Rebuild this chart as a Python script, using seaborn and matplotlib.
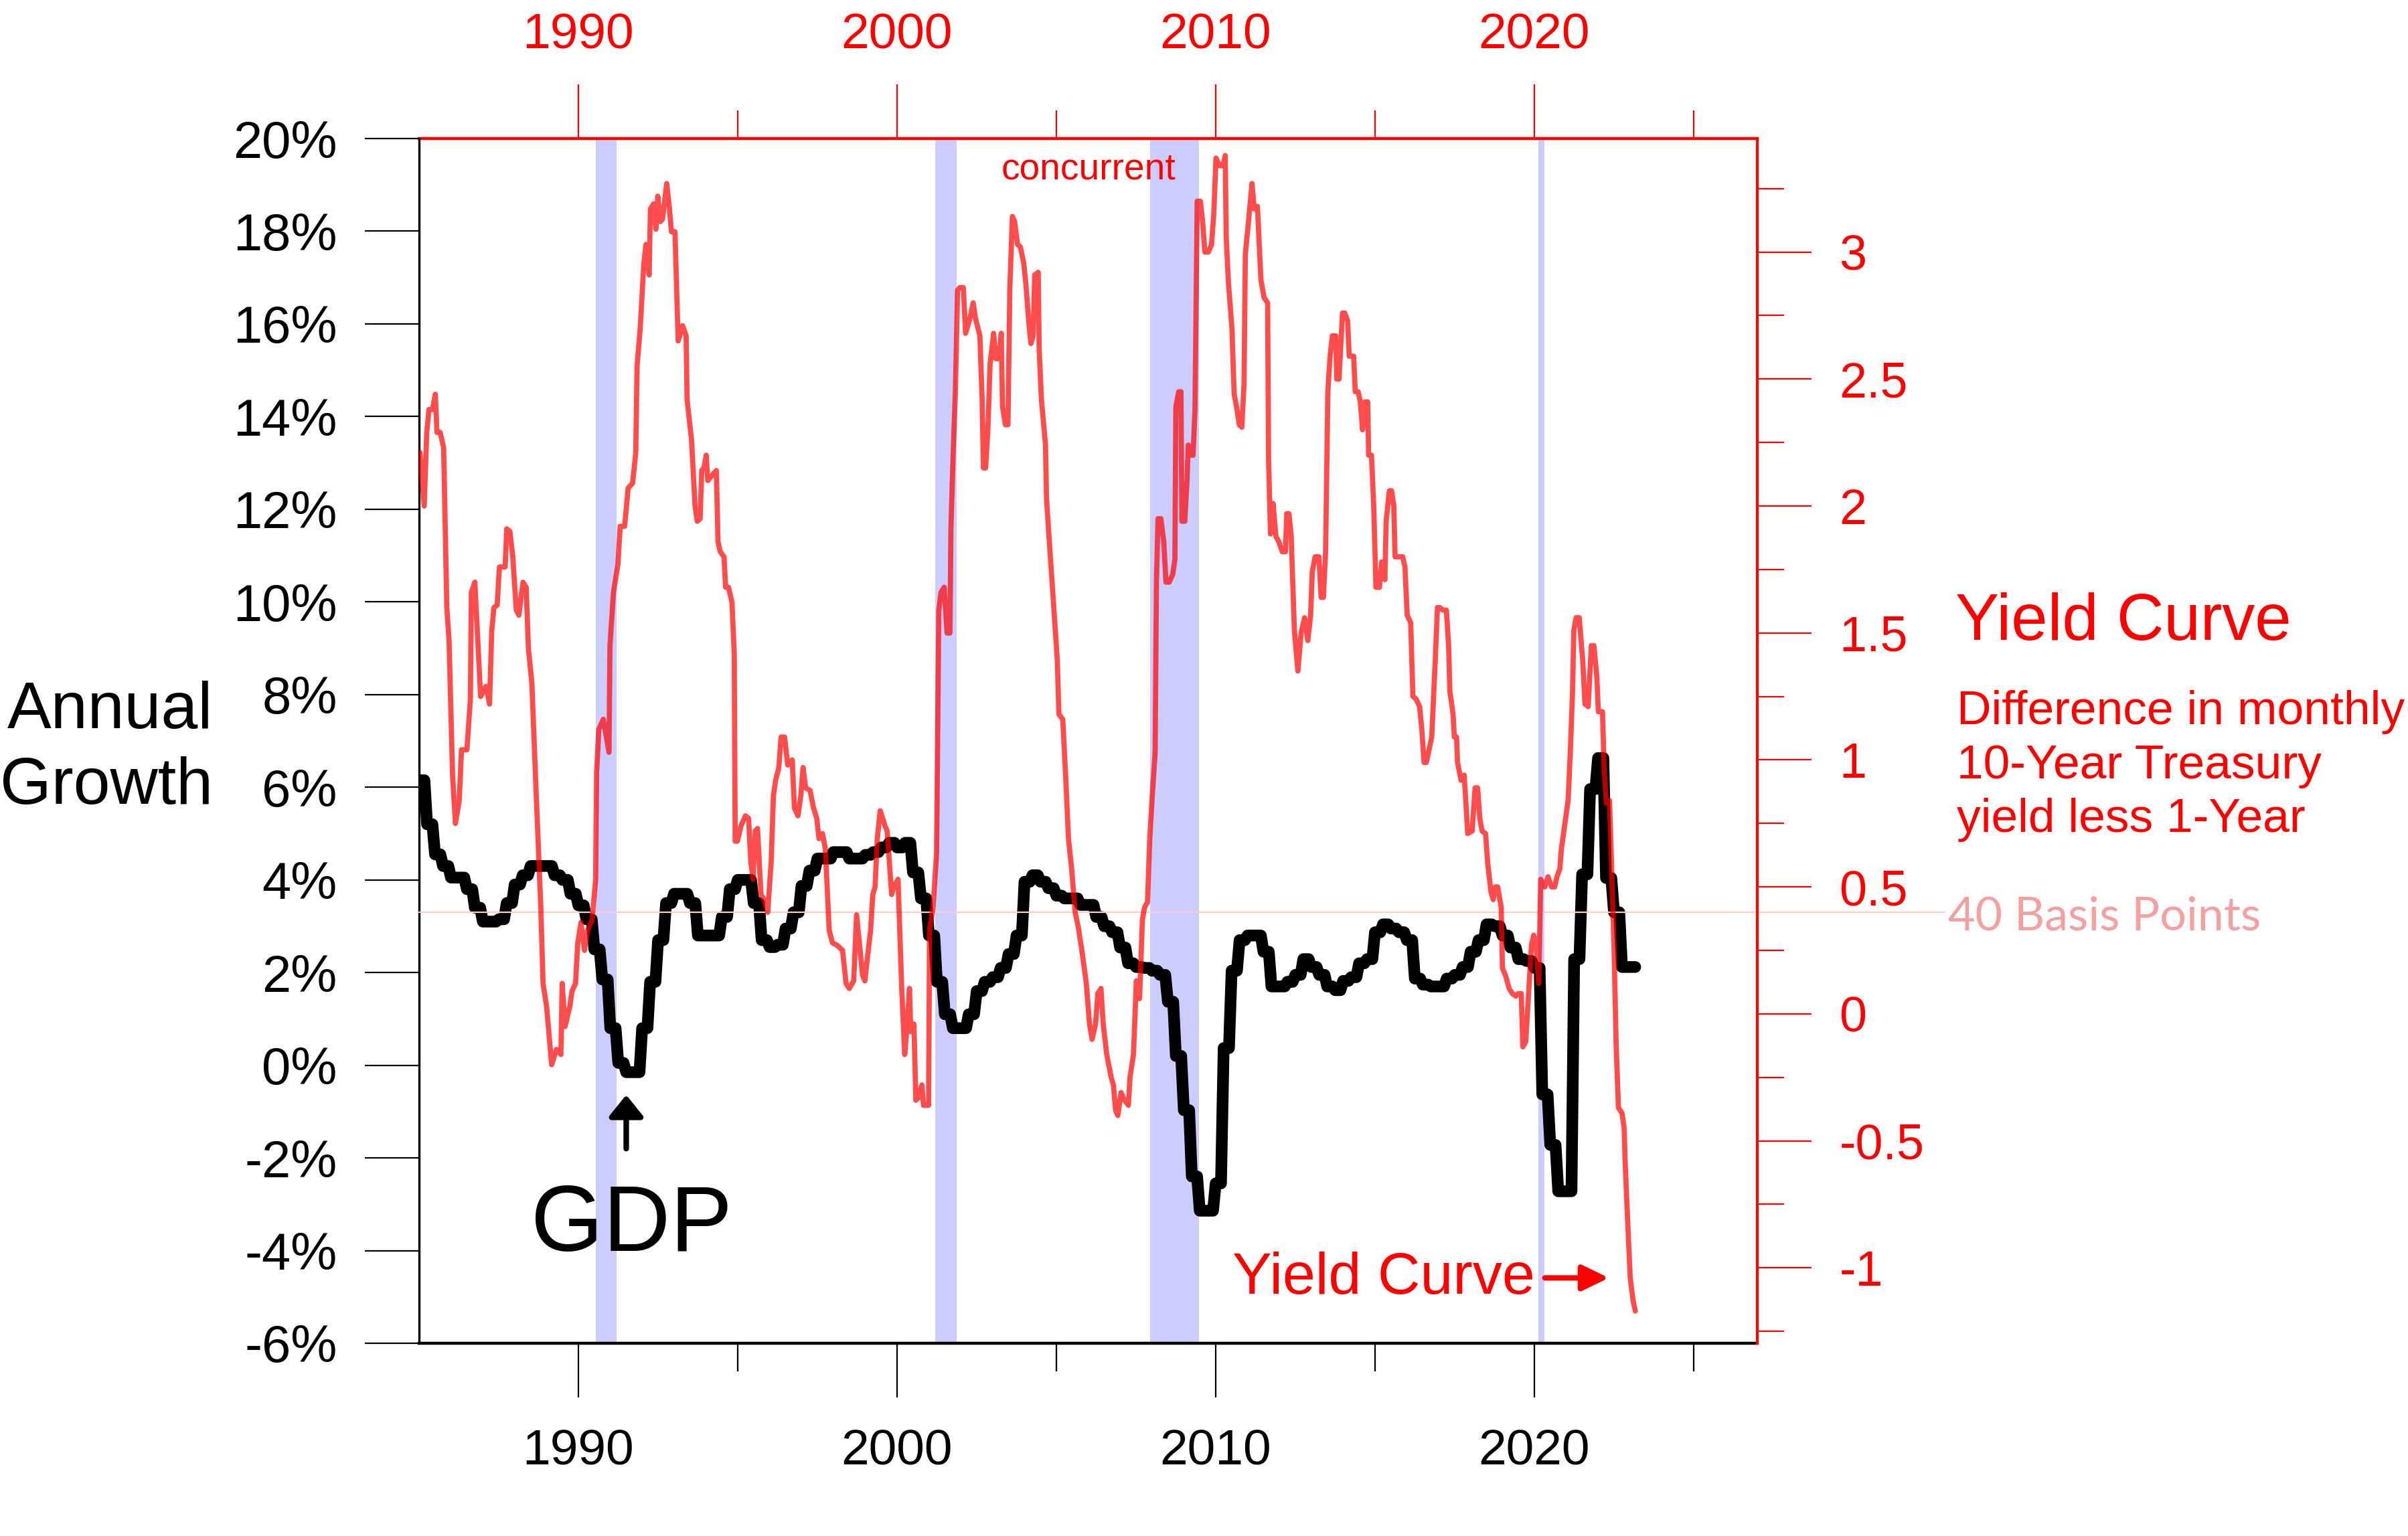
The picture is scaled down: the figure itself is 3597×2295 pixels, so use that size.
import numpy as np
import pandas as pd
import matplotlib
matplotlib.use("Agg")
import matplotlib.pyplot as plt  # noqa: E402
import seaborn as sns  # noqa: E402
from matplotlib.ticker import FixedLocator, MultipleLocator, FuncFormatter  # noqa: E402

# GDP annual growth (%), one value per quarter from 1985Q1 to 2023Q1
gdp_start = 1985
gdp_growth = [
    6.15, 5.2, 4.55, 4.3,      # 1985
    4.05, 4.05, 3.8, 3.4,      # 1986
    3.1, 3.1, 3.15, 3.5,       # 1987
    3.9, 4.1, 4.3, 4.3,        # 1988
    4.3, 4.1, 4.0, 3.7,        # 1989
    3.45, 3.15, 2.5, 1.85,     # 1990
    0.8, 0.05, -0.15, -0.15,   # 1991
    0.8, 1.8, 2.7, 3.5,        # 1992
    3.7, 3.7, 3.5, 2.8,        # 1993
    2.8, 2.8, 3.2, 3.8,        # 1994
    4.0, 4.0, 3.5, 2.7,        # 1995
    2.55, 2.6, 2.95, 3.3,      # 1996
    3.87, 4.2, 4.46, 4.46,     # 1997
    4.6, 4.6, 4.46, 4.46,      # 1998
    4.54, 4.6, 4.7, 4.8,       # 1999
    4.7, 4.8, 4.16, 3.6,       # 2000
    2.8, 1.8, 1.1, 0.8,        # 2001
    0.8, 1.1, 1.6, 1.8,        # 2002
    1.9, 2.1, 2.4, 2.8,        # 2003
    3.96, 4.1, 3.96, 3.82,     # 2004
    3.66, 3.6, 3.6, 3.46,      # 2005
    3.46, 3.2, 3.0, 2.87,      # 2006
    2.54, 2.2, 2.12, 2.1,      # 2007
    2.04, 1.95, 1.37, 0.2,     # 2008
    -0.97, -2.4, -3.14, -3.14, # 2009
    -2.55, 0.37, 2.04, 2.7,    # 2010
    2.8, 2.8, 2.45, 1.7,       # 2011
    1.7, 1.8, 1.95, 2.29,      # 2012
    2.12, 1.95, 1.7, 1.62,     # 2013
    1.82, 1.9, 2.2, 2.29,      # 2014
    2.87, 3.04, 2.95, 2.87,    # 2015
    2.7, 1.87, 1.74, 1.7,      # 2016
    1.7, 1.87, 1.95, 2.12,     # 2017
    2.45, 2.7, 3.04, 3.0,      # 2018
    2.8, 2.54, 2.29, 2.25,     # 2019
    2.1, -0.63, -1.72, -2.72,  # 2020
    -2.72, 2.29, 4.12, 5.96,   # 2021
    6.63, 4.04, 3.3, 2.12,     # 2022
    2.12,                      # 2023
]

# Yield curve: 10-year less 1-year Treasury yield (percentage points)
yc_years = [
    1985.03, 1985.16, 1985.24, 1985.31, 1985.42, 1985.51, 1985.56, 1985.66, 1985.77, 1985.87,
    1985.94, 1986.05, 1986.14, 1986.26, 1986.33, 1986.50, 1986.61, 1986.64, 1986.75, 1986.85,
    1986.93, 1987.10, 1987.21, 1987.28, 1987.35, 1987.45, 1987.52, 1987.70, 1987.75, 1987.85,
    1987.94, 1988.05, 1988.13, 1988.26, 1988.36, 1988.43, 1988.54, 1988.68, 1988.82, 1988.89,
    1989.00, 1989.16, 1989.31, 1989.45, 1989.49, 1989.58, 1989.73, 1989.80, 1989.91, 1989.98,
    1990.08, 1990.19, 1990.29, 1990.43, 1990.54, 1990.57, 1990.64, 1990.78, 1990.96, 1990.99,
    1991.10, 1991.24, 1991.31, 1991.45, 1991.56, 1991.70, 1991.80, 1991.84, 1991.94, 1992.05,
    1992.12, 1992.22, 1992.26, 1992.36, 1992.43, 1992.49, 1992.57, 1992.64, 1992.77, 1992.85,
    1992.92, 1993.03, 1993.13, 1993.27, 1993.38, 1993.41, 1993.55, 1993.66, 1993.73, 1993.82,
    1993.87, 1993.94, 1994.01, 1994.06, 1994.19, 1994.33, 1994.38, 1994.45, 1994.57, 1994.62,
    1994.71, 1994.82, 1994.89, 1994.92, 1994.99, 1995.10, 1995.24, 1995.34, 1995.41, 1995.48,
    1995.55, 1995.62, 1995.73, 1995.83, 1995.94, 1996.05, 1996.12, 1996.19, 1996.29, 1996.36,
    1996.47, 1996.57, 1996.71, 1996.78, 1996.89, 1996.98, 1997.05, 1997.13, 1997.27, 1997.38,
    1997.48, 1997.55, 1997.66, 1997.75, 1997.87, 1997.97, 1998.12, 1998.29, 1998.40, 1998.50,
    1998.64, 1998.73, 1998.85, 1998.92, 1998.99, 1999.06, 1999.17, 1999.24, 1999.31, 1999.38,
    1999.47, 1999.55, 1999.62, 1999.69, 1999.83, 1999.90, 2000.03, 2000.15, 2000.24, 2000.32,
    2000.39, 2000.43, 2000.53, 2000.59, 2000.67, 2000.78, 2000.83, 2000.99, 2001.02, 2001.13,
    2001.24, 2001.31, 2001.38, 2001.48, 2001.57, 2001.66, 2001.69, 2001.76, 2001.83, 2001.90,
    2001.97, 2002.08, 2002.15, 2002.29, 2002.39, 2002.46, 2002.60, 2002.67, 2002.71, 2002.78,
    2002.85, 2002.92, 2003.03, 2003.10, 2003.20, 2003.27, 2003.31, 2003.40, 2003.48, 2003.54,
    2003.62, 2003.69, 2003.78, 2003.87, 2003.97, 2004.04, 2004.13, 2004.20, 2004.27, 2004.32,
    2004.43, 2004.46, 2004.53, 2004.66, 2004.69, 2004.80, 2004.92, 2005.03, 2005.08, 2005.20,
    2005.29, 2005.38, 2005.48, 2005.59, 2005.69, 2005.80, 2005.94, 2006.04, 2006.12, 2006.23,
    2006.30, 2006.40, 2006.47, 2006.58, 2006.72, 2006.79, 2006.86, 2006.93, 2007.03, 2007.14,
    2007.26, 2007.31, 2007.42, 2007.51, 2007.61, 2007.70, 2007.77, 2007.86, 2007.93, 2008.01,
    2008.10, 2008.14, 2008.19, 2008.28, 2008.37, 2008.44, 2008.54, 2008.65, 2008.72, 2008.75,
    2008.84, 2008.91, 2008.94, 2009.03, 2009.10, 2009.14, 2009.24, 2009.29, 2009.35, 2009.42,
    2009.52, 2009.59, 2009.66, 2009.77, 2009.87, 2009.94, 2010.01, 2010.12, 2010.23, 2010.30,
    2010.33, 2010.40, 2010.51, 2010.58, 2010.67, 2010.74, 2010.82, 2010.89, 2010.93, 2011.03,
    2011.14, 2011.21, 2011.31, 2011.42, 2011.52, 2011.63, 2011.66, 2011.72, 2011.80, 2011.89,
    2011.98, 2012.09, 2012.19, 2012.23, 2012.30, 2012.37, 2012.47, 2012.58, 2012.68, 2012.79,
    2012.89, 2012.98, 2013.03, 2013.12, 2013.24, 2013.31, 2013.38, 2013.45, 2013.52, 2013.59,
    2013.66, 2013.77, 2013.80, 2013.87, 2013.98, 2014.05, 2014.14, 2014.19, 2014.33, 2014.38,
    2014.47, 2014.54, 2014.61, 2014.68, 2014.77, 2014.80, 2014.89, 2014.96, 2015.03, 2015.14,
    2015.21, 2015.31, 2015.35, 2015.45, 2015.52, 2015.59, 2015.63, 2015.77, 2015.87, 2015.94,
    2016.01, 2016.12, 2016.19, 2016.29, 2016.40, 2016.47, 2016.54, 2016.61, 2016.68, 2016.78,
    2016.89, 2016.96, 2017.03, 2017.14, 2017.24, 2017.31, 2017.35, 2017.45, 2017.49, 2017.56,
    2017.59, 2017.70, 2017.80, 2017.91, 2018.05, 2018.14, 2018.22, 2018.29, 2018.36, 2018.47,
    2018.54, 2018.64, 2018.71, 2018.78, 2018.85, 2018.96, 2019.00, 2019.10, 2019.21, 2019.31,
    2019.42, 2019.49, 2019.59, 2019.64, 2019.73, 2019.84, 2019.91, 2019.98, 2020.05, 2020.14,
    2020.20, 2020.33, 2020.43, 2020.54, 2020.64, 2020.71, 2020.80, 2020.85, 2020.96, 2021.06,
    2021.13, 2021.20, 2021.24, 2021.31, 2021.41, 2021.52, 2021.59, 2021.69, 2021.79, 2021.87,
    2021.96, 2022.01, 2022.14, 2022.19, 2022.26, 2022.36, 2022.43, 2022.50, 2022.57, 2022.64,
    2022.75, 2022.82, 2022.85, 2022.92, 2023.01, 2023.10, 2023.17,
]
yc_spread = [
    2.21, 2.00, 2.29, 2.38, 2.38, 2.44, 2.29, 2.29, 2.23, 1.60,
    1.47, 0.94, 0.75, 0.84, 1.04, 1.04, 1.24, 1.66, 1.70, 1.45,
    1.25, 1.29, 1.22, 1.51, 1.60, 1.61, 1.76, 1.76, 1.91, 1.90,
    1.80, 1.59, 1.57, 1.70, 1.68, 1.44, 1.30, 0.85, 0.42, 0.12,
    0.03, -0.20, -0.14, -0.16, 0.12, -0.05, 0.03, 0.09, 0.12, 0.28,
    0.36, 0.25, 0.33, 0.37, 0.53, 0.95, 1.12, 1.16, 1.03, 1.45,
    1.66, 1.77, 1.92, 1.92, 2.07, 2.09, 2.21, 2.55, 2.70, 2.95,
    3.03, 2.91, 3.17, 3.19, 3.09, 3.22, 3.12, 3.13, 3.27, 3.18,
    3.08, 3.08, 2.65, 2.71, 2.67, 2.42, 2.26, 2.00, 1.94, 1.95,
    2.14, 2.15, 2.20, 2.10, 2.12, 2.14, 1.86, 1.82, 1.80, 1.68,
    1.68, 1.62, 1.42, 0.68, 0.68, 0.74, 0.78, 0.77, 0.60, 0.53,
    0.72, 0.73, 0.47, 0.45, 0.40, 0.60, 0.86, 0.92, 0.97, 1.09,
    1.09, 0.98, 1.00, 0.81, 0.78, 0.86, 0.97, 0.89, 0.88, 0.81,
    0.77, 0.69, 0.71, 0.65, 0.33, 0.28, 0.27, 0.25, 0.12, 0.10,
    0.13, 0.39, 0.24, 0.15, 0.13, 0.21, 0.33, 0.47, 0.50, 0.69,
    0.80, 0.77, 0.74, 0.72, 0.47, 0.50, 0.53, 0.09, -0.16, -0.04,
    0.10, -0.07, -0.04, -0.34, -0.33, -0.28, -0.36, -0.36, 0.33, 0.42,
    0.63, 1.59, 1.66, 1.68, 1.50, 1.50, 1.91, 2.20, 2.45, 2.85,
    2.86, 2.86, 2.68, 2.74, 2.80, 2.74, 2.67, 2.42, 2.15, 2.15,
    2.30, 2.56, 2.68, 2.58, 2.58, 2.68, 2.39, 2.32, 2.32, 2.86,
    3.14, 3.12, 3.03, 3.02, 2.96, 2.88, 2.73, 2.64, 2.67, 2.91,
    2.92, 2.62, 2.42, 2.24, 2.03, 1.82, 1.60, 1.39, 1.18, 1.16,
    0.94, 0.69, 0.57, 0.40, 0.34, 0.25, 0.12, -0.04, -0.10, -0.04,
    0.08, 0.10, -0.04, -0.16, -0.25, -0.28, -0.38, -0.40, -0.31, -0.34,
    -0.36, -0.25, -0.16, 0.13, 0.06, 0.37, 0.42, 0.44, 0.69, 0.86,
    1.03, 1.70, 1.95, 1.95, 1.86, 1.70, 1.70, 1.73, 1.79, 2.39,
    2.45, 2.45, 1.94, 1.94, 2.10, 2.24, 2.20, 2.20, 2.38, 3.20,
    3.20, 3.12, 3.00, 3.00, 3.03, 3.15, 3.37, 3.34, 3.34, 3.38,
    3.06, 2.88, 2.70, 2.44, 2.38, 2.32, 2.31, 2.48, 2.99, 3.12,
    3.27, 3.17, 3.18, 2.89, 2.82, 2.80, 2.18, 1.89, 2.01, 1.88,
    1.86, 1.82, 1.82, 1.97, 1.97, 1.88, 1.51, 1.35, 1.50, 1.56,
    1.47, 1.57, 1.74, 1.80, 1.80, 1.64, 1.64, 1.82, 2.45, 2.59,
    2.67, 2.67, 2.50, 2.50, 2.76, 2.76, 2.73, 2.59, 2.59, 2.45,
    2.45, 2.41, 2.30, 2.41, 2.41, 2.20, 2.20, 2.00, 1.68, 1.68,
    1.78, 1.71, 1.94, 2.06, 2.06, 2.00, 1.80, 1.80, 1.80, 1.76,
    1.57, 1.54, 1.25, 1.24, 1.21, 1.12, 0.99, 0.99, 1.03, 1.09,
    1.39, 1.60, 1.60, 1.59, 1.59, 1.45, 1.27, 1.18, 1.09, 1.09,
    0.99, 0.92, 0.94, 0.71, 0.72, 0.89, 0.89, 0.77, 0.72, 0.71,
    0.59, 0.48, 0.45, 0.50, 0.50, 0.42, 0.18, 0.15, 0.10, 0.08,
    0.07, 0.08, 0.08, -0.13, -0.11, 0.12, 0.27, 0.31, 0.28, 0.12,
    0.53, 0.50, 0.54, 0.50, 0.50, 0.54, 0.57, 0.65, 0.75, 0.84,
    1.03, 1.27, 1.51, 1.56, 1.56, 1.39, 1.22, 1.21, 1.45, 1.45,
    1.33, 1.19, 1.19, 0.97, 0.83, 0.84, 0.56, 0.27, -0.13, -0.37,
    -0.39, -0.45, -0.58, -0.79, -1.04, -1.13, -1.17,
]

recessions = [(1990.54, 1991.20), (2001.20, 2001.88), (2007.94, 2009.48), (2020.13, 2020.31)]

growth_ticks = list(range(-6, 21, 2))
spread_ticks = [-1, -0.5, 0, 0.5, 1, 1.5, 2, 2.5, 3]
year_ticks = [1990, 2000, 2010, 2020]
year_minor = [1995, 2005, 2015, 2025]
basis_points = 0.4

# quarterly values held for each month of the quarter
gdp = pd.DataFrame({
    "year": gdp_start + np.arange(len(gdp_growth) * 3) / 12,
    "growth": np.repeat(gdp_growth, 3),
})
yc = pd.DataFrame({"year": yc_years, "spread": yc_spread})

sns.set_style("white")
plt.rcParams["font.family"] = ["Liberation Sans", "DejaVu Sans"]
plt.rcParams["axes.unicode_minus"] = False

fig = plt.figure(figsize=(17.99, 11.475), dpi=200)
ax = fig.add_axes([0.1740, 0.1255, 0.5556, 0.7843])

for start, end in recessions:
    ax.axvspan(start, end, color="#ccccff", lw=0, zorder=0)

sns.lineplot(data=gdp, x="year", y="growth", ax=ax, color="black", lw=6.3,
             estimator=None, sort=False, solid_joinstyle="round", solid_capstyle="round", zorder=3)
ax.set_xlim(1985.0, 2027.0)
ax.set_ylim(-6, 20)
ax.set_xlabel("")
ax.set_ylabel("")

ax2 = ax.twinx()
ax2.axhline(basis_points, xmin=0, xmax=1.14, color="#ffcccc", lw=0.8, clip_on=False, zorder=1)
sns.lineplot(data=yc, x="year", y="spread", ax=ax2, color="red", alpha=0.7, lw=2.8,
             estimator=None, sort=False, solid_joinstyle="round", zorder=2)
ax2.set_ylim(-1.297, 3.447)
ax2.set_ylabel("")

# left axis (growth)
ax.set_yticks(growth_ticks)
ax.yaxis.set_major_formatter(FuncFormatter(lambda v, _: f"{v:.0f}%"))
ax.tick_params(axis="y", direction="out", length=29, width=0.8, pad=15, labelsize=28,
               left=True, colors="black")

# bottom axis
ax.set_xticks(year_ticks)
ax.xaxis.set_minor_locator(FixedLocator(year_minor))
ax.tick_params(axis="x", which="major", direction="out", length=29, width=0.8, pad=17,
               labelsize=27, bottom=True, colors="black")
ax.tick_params(axis="x", which="minor", direction="out", length=15, width=0.8, bottom=True,
               colors="black")

# top axis (red copy of the years)
top = ax.secondary_xaxis("top")
top.set_xticks(year_ticks)
top.xaxis.set_minor_locator(FixedLocator(year_minor))
top.tick_params(axis="x", which="major", direction="out", length=29, width=0.8, pad=14,
                labelsize=27, colors="red")
top.tick_params(axis="x", which="minor", direction="out", length=15, width=0.8, colors="red")
top.spines["top"].set_color("red")
top.spines["top"].set_linewidth(1.6)

# right axis (spread)
ax2.set_yticks(spread_ticks)
ax2.yaxis.set_minor_locator(MultipleLocator(0.25))
ax2.yaxis.set_major_formatter(FuncFormatter(lambda v, _: f"{v:g}"))
ax2.tick_params(axis="y", which="major", direction="out", length=29, width=0.8, pad=15,
                labelsize=26.5, colors="red", right=True)
ax2.tick_params(axis="y", which="minor", direction="out", length=14.5, width=0.8,
                colors="red", right=True)

for name in ["top", "right"]:
    ax.spines[name].set_visible(False)
ax.spines["left"].set_color("black")
ax.spines["left"].set_linewidth(1.2)
ax.spines["bottom"].set_color("black")
ax.spines["bottom"].set_linewidth(1.6)
for name in ["left", "bottom", "top"]:
    ax2.spines[name].set_visible(False)
ax2.spines["right"].set_color("red")
ax2.spines["right"].set_linewidth(1.5)

# annotations inside the plot
ax.text(1991.67, -4.01, "GDP", ha="center", va="baseline", fontsize=50, color="black")
ax.annotate("", xy=(1991.50, -0.64), xytext=(1991.50, -1.80),
            arrowprops=dict(arrowstyle="-|>,head_length=0.97,head_width=0.78", mutation_scale=10,
                            color="black", lw=3, shrinkA=0, shrinkB=0))
ax.text(2006.0, 19.13, "concurrent", ha="center", va="baseline", fontsize=19.8, color="red")
ax.text(2020.03, -4.93, "Yield Curve", ha="right", va="baseline", fontsize=31.7, color="red")
ax.annotate("", xy=(2022.34, -4.59), xytext=(2020.33, -4.59),
            arrowprops=dict(arrowstyle="-|>,head_length=1.2,head_width=0.58", mutation_scale=10,
                            color="red", lw=2.9, shrinkA=0, shrinkB=0))

# left title
fig.text(0.0885, 0.5259, "Annual", ha="right", va="baseline", fontsize=35.5, color="black")
fig.text(0.0885, 0.4767, "Growth", ha="right", va="baseline", fontsize=35.5, color="black")

# right-hand legend text
fig.text(0.8118, 0.5834, "Yield Curve", ha="left", va="baseline", fontsize=35.2, color="red")
fig.text(0.8124, 0.5285, "Difference in monthly", ha="left", va="baseline", fontsize=25.7, color="red")
fig.text(0.8124, 0.4932, "10-Year Treasury", ha="left", va="baseline", fontsize=25.7, color="red")
fig.text(0.8124, 0.4584, "yield less 1-Year", ha="left", va="baseline", fontsize=25.7, color="red")
fig.text(0.8088, 0.3945, "40 Basis Points", ha="left", va="baseline", fontsize=25.2, color="#f5a0a0",
         family=["Lato", "DejaVu Sans"])

fig.savefig("out.png", dpi=200)
plt.close(fig)
